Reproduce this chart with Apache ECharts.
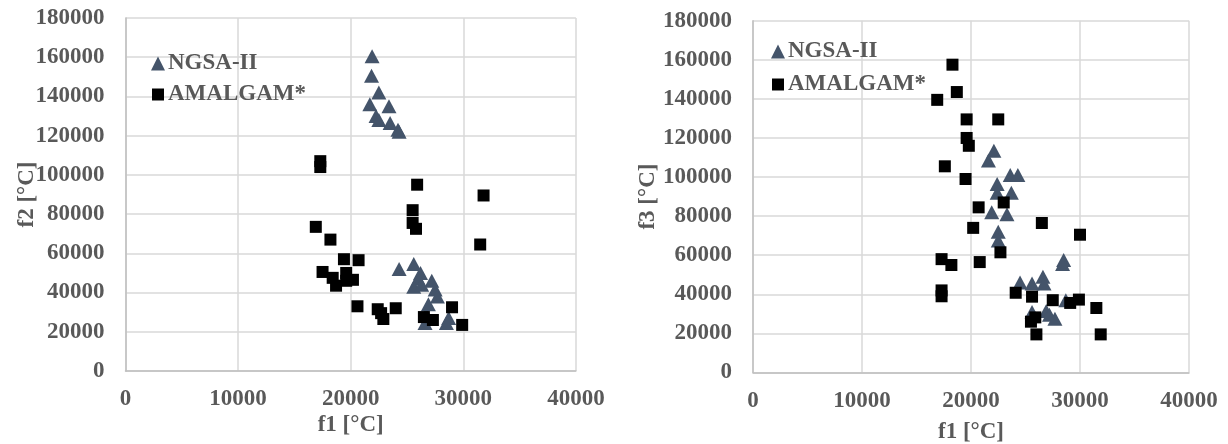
<!DOCTYPE html>
<html>
<head>
<meta charset="utf-8">
<script src="https://cdn.jsdelivr.net/npm/echarts@6/dist/echarts.min.js"></script>
<style>
  html, body { margin: 0; padding: 0; background: #ffffff; }
  #chart { width: 1228px; height: 444px; }
</style>
</head>
<body>
<div id="chart"></div>
<script>
// Series names
const seriesNames = ['NGSA-II', 'AMALGAM*'];

// Axis titles
const leftXTitle = 'f1 [°C]';
const leftYTitle = 'f2 [°C]';
const rightXTitle = 'f1 [°C]';
const rightYTitle = 'f3 [°C]';

// Axis ranges
const xRange = { min: 0, max: 40000, step: 10000 };
const yRange = { min: 0, max: 180000, step: 20000 };

// Left panel: f1 vs f2
const leftNgsa = [
  [21900, 160500], [21850, 150500], [22500, 142000], [21700, 136000], [23400, 135000],
  [22250, 130000], [22500, 128000], [23500, 126500], [24200, 123000], [24300, 122000],
  [24300, 52000], [25600, 54500], [26200, 50000], [26000, 47000], [25600, 43000],
  [26300, 44000], [27200, 46000], [27500, 41500], [27700, 38000], [26900, 34000],
  [26700, 29000], [26600, 24500], [28500, 24500], [28700, 27000]
];
const leftAmalgam = [
  [17300, 107000], [17300, 104000], [25900, 95000], [31800, 89500], [25500, 82000],
  [25500, 75500], [25800, 72500], [16900, 73500], [18200, 67000], [31500, 64500],
  [19400, 57000], [20700, 56500], [17500, 50500], [18400, 47500], [18700, 43500],
  [19600, 50000], [19600, 46000], [20200, 46500], [20600, 33000], [22400, 31500],
  [22700, 29500], [22900, 26500], [24000, 32000], [29000, 32500], [26500, 27500],
  [27300, 26000], [29900, 23500]
];

// Right panel: f1 vs f3
const rightNgsa = [
  [22100, 113500], [21600, 108500], [23600, 101000], [24300, 101000], [22400, 96500],
  [22400, 92000], [23700, 92000], [21900, 82000], [23300, 81000], [22500, 72000],
  [22500, 67500], [28500, 57500], [28400, 55500], [24500, 46000], [25600, 45500],
  [26600, 49000], [26700, 45500], [28700, 37000], [25600, 31000], [26900, 31500],
  [27200, 29500], [27700, 27500]
];
const rightAmalgam = [
  [18300, 157500], [18700, 143500], [16900, 139500], [19600, 129500], [22500, 129500],
  [19600, 120000], [19800, 116000], [17600, 105500], [19500, 99000], [20700, 84500],
  [23000, 87000], [20200, 74000], [26500, 76500], [30000, 70500], [22700, 61500],
  [17300, 58000], [18200, 55000], [20800, 56500], [17300, 42000], [17300, 39000],
  [24100, 40800], [25600, 38800], [27500, 37000], [29100, 35600], [29900, 37300],
  [31500, 33000], [25500, 26000], [25900, 28200], [26000, 19500], [31900, 19500]
];

const FONT = "'Liberation Serif', 'Times New Roman', serif";
const TEXT_COLOR = '#595959';
const NGSA_COLOR = '#44546A';
const AMALGAM_COLOR = '#000000';
const GRID_COLOR = '#d9d9d9';
const AXIS_COLOR = '#bfbfbf';

const textStyle = { fontFamily: FONT, fontWeight: 'bold', fontSize: 23, color: TEXT_COLOR };

// plain integers, no thousands separators
const plainNumber = v => String(v);

function xAxis(gridIndex, title, nameGap) {
  return {
    type: 'value', gridIndex,
    min: xRange.min, max: xRange.max, interval: xRange.step,
    name: title, nameLocation: 'middle', nameGap, nameMoveOverlap: false,
    nameTextStyle: textStyle,
    axisLine: { show: true, lineStyle: { color: AXIS_COLOR, width: 1.5 } },
    axisTick: { show: false },
    axisLabel: Object.assign({ margin: 17, formatter: plainNumber }, textStyle),
    splitLine: { show: true, lineStyle: { color: GRID_COLOR, width: 1.5 } }
  };
}
function yAxis(gridIndex, title, nameGap) {
  return {
    type: 'value', gridIndex,
    min: yRange.min, max: yRange.max, interval: yRange.step,
    name: title, nameLocation: 'middle', nameGap, nameMoveOverlap: false,
    nameTextStyle: textStyle,
    axisLine: { show: true, lineStyle: { color: AXIS_COLOR, width: 1.5 } },
    axisTick: { show: false },
    axisLabel: Object.assign({ margin: 21, formatter: plainNumber }, textStyle),
    splitLine: { show: true, lineStyle: { color: GRID_COLOR, width: 1.5 } }
  };
}
function scatter(name, idx, data, isTriangle) {
  return {
    name, type: 'scatter', xAxisIndex: idx, yAxisIndex: idx, data,
    symbol: isTriangle ? 'triangle' : 'rect',
    symbolSize: isTriangle ? [15, 14] : 12,
    itemStyle: { color: isTriangle ? NGSA_COLOR : AMALGAM_COLOR, opacity: 1 },
    emphasis: { disabled: true },
    animation: false
  };
}
// square legend icon drawn smaller than the triangle inside the same box
const squareIcon = 'path://M0,0M14,14M1,1L13,1L13,13L1,13Z';

function legend(left, top, gap) {
  return {
    orient: 'vertical', left, top,
    itemWidth: 14, itemHeight: 14, itemGap: gap,
    textStyle: Object.assign({ padding: [0, 0, 0, -2] }, textStyle),
    selectedMode: false,
    data: [
      { name: seriesNames[0], icon: 'triangle' },
      { name: seriesNames[1], icon: squareIcon }
    ]
  };
}

const chart = echarts.init(document.getElementById('chart'), null, { renderer: 'canvas' });
chart.setOption({
  backgroundColor: '#ffffff',
  animation: false,
  grid: [
    { left: 125.5, top: 18, width: 450.4, height: 353, outerBoundsMode: 'none' },
    { left: 753, top: 20.7, width: 436, height: 351.8, outerBoundsMode: 'none' }
  ],
  xAxis: [xAxis(0, leftXTitle, 43), xAxis(1, rightXTitle, 48)],
  yAxis: [yAxis(0, leftYTitle, 86.5), yAxis(1, rightYTitle, 93.5)],
  legend: [legend(146, 47, 8), legend(766, 35, 10)],
  series: [
    scatter(seriesNames[0], 0, leftNgsa, true),
    scatter(seriesNames[1], 0, leftAmalgam, false),
    scatter(seriesNames[0], 1, rightNgsa, true),
    scatter(seriesNames[1], 1, rightAmalgam, false)
  ]
});
</script>
</body>
</html>
